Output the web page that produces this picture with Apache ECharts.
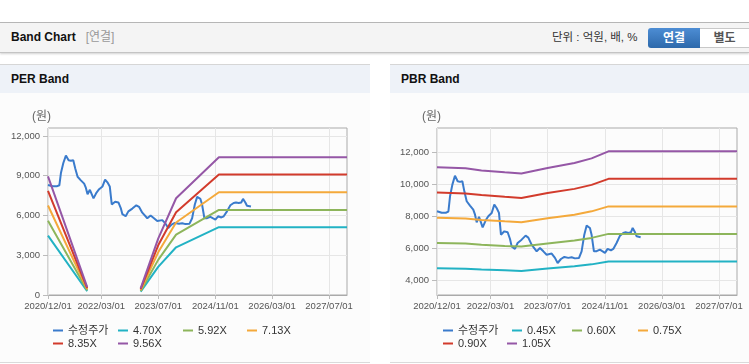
<!DOCTYPE html>
<html><head><meta charset="utf-8">
<script src="https://cdn.jsdelivr.net/npm/echarts@6/dist/echarts.min.js"></script>
<style>
html,body{margin:0;padding:0;width:749px;height:364px;overflow:hidden;background:#fff;font-family:"Liberation Sans",Arial,"Noto Sans CJK KR",sans-serif;}
#topline{position:absolute;left:0;top:22px;width:749px;height:1px;background:#b9b9b9;}
#hdr{position:absolute;left:0;top:23px;width:749px;height:29px;background:#f4f4f4;border-bottom:1px solid #c4c4c4;box-shadow:0 1px 2px rgba(0,0,0,0.18);}
#hdr .t{position:absolute;left:11px;top:0;line-height:29px;font-size:12px;font-weight:bold;color:#111;white-space:nowrap;}
#hdr .s{color:#999;font-weight:normal;margin-left:10px;}
#unit{position:absolute;left:552px;top:0;line-height:29px;font-size:11.5px;color:#333;white-space:nowrap;}
#b1{position:absolute;left:648px;top:5px;width:52px;height:20px;line-height:20px;text-align:center;background:linear-gradient(#4d8dd4,#2d69ab);color:#fff;font-weight:bold;font-size:12px;border-radius:3px 0 0 3px;}
#b2{position:absolute;left:700px;top:5px;width:49px;height:18px;line-height:18px;text-align:center;background:#fff;border:1px solid #c8c8c8;border-left:none;color:#555;font-weight:bold;font-size:12px;}
.panel{position:absolute;top:64px;height:297px;background:#fcfcfc;border-top:1px solid #d6d6d6;border-bottom:1px solid #dadada;}
#p1{left:0;width:370px;}
#p2{left:390px;width:359px;}
.ph{height:28px;background:#eef2f8;line-height:29px;padding-left:11px;font-weight:bold;font-size:12px;color:#111;}
#chart{position:absolute;left:0;top:0;width:749px;height:364px;z-index:5;}
</style></head>
<body>
<div id="topline"></div>
<div id="hdr"><div class="t">Band Chart<span class="s">[연결]</span></div>
<div id="unit">단위 : 억원, 배, %</div><div id="b1">연결</div><div id="b2">별도</div></div>
<div class="panel" id="p1"><div class="ph">PER Band</div></div>
<div class="panel" id="p2"><div class="ph">PBR Band</div></div>
<div id="chart"></div>
<script>
// ---------- data ----------
const priceDates = ['2020-12-01','2021-01-10','2021-02-13','2021-03-08','2021-03-22','2021-04-11','2021-05-03','2021-05-26','2021-06-15','2021-07-05','2021-07-22','2021-08-11','2021-09-08','2021-10-06','2021-10-21','2021-11-04','2021-11-24','2021-12-11','2021-12-25','2022-01-20','2022-02-11','2022-03-12','2022-04-03','2022-04-23','2022-05-13','2022-05-30','2022-06-28','2022-07-26','2022-08-15','2022-08-29','2022-09-26','2022-10-19','2022-11-22','2022-12-26','2023-01-18','2023-02-15','2023-03-30','2023-04-27','2023-05-26','2023-06-23','2023-08-05','2023-09-02','2023-09-25','2023-10-23','2023-11-21','2023-12-25','2024-01-22','2024-02-19','2024-03-25','2024-04-16','2024-05-09','2024-05-29','2024-06-26','2024-07-10','2024-07-30','2024-08-22','2024-09-19','2024-10-09','2024-11-01','2024-11-24','2024-12-22','2025-01-11','2025-02-08','2025-03-09','2025-04-06','2025-04-26','2025-05-19','2025-06-10','2025-06-25','2025-07-15','2025-07-29','2025-09-01'];
const priceValues = [8300,8200,8200,8280,9230,9960,10520,10170,10130,10170,9540,8920,8650,8400,8080,7600,7940,7850,7290,7730,7980,8190,8710,8500,8190,6830,7040,6980,6560,6100,5940,6310,6520,6770,6650,6210,5790,6000,5790,5580,5650,5380,5060,5310,5440,5380,5420,5350,5380,5790,6830,7400,7250,6830,5790,5800,5900,5800,5690,5940,5850,5940,6310,6770,6940,6980,6940,6980,7250,6980,6730,6670];

const perDates = ['2020-12-01','2021-11-01','2022-06-01','2023-02-01','2023-07-01','2023-12-01','2024-12-01','2027-12-01'];
const per470 = [4480, 280, null, 250, 2120, 3600, 5120, 5120];
const per592 = [5600, 360, null, 310, 2650, 4550, 6420, 6420];
const per713 = [6750, 440, null, 380, 3220, 5470, 7750, 7750];
const per835 = [7850, 520, null, 440, 3750, 6250, 9100, 9100];
const per956 = [8950, 600, null, 500, 4250, 7300, 10400, 10400];

const pbrDates = ['2020-12-01','2021-08-01','2021-12-15','2022-07-01','2022-11-20','2023-07-01','2024-02-15','2024-07-10','2024-12-01','2027-12-01'];
const pbr045 = [4730, 4705, 4650, 4600, 4565, 4715, 4850, 4975, 5160, 5160];
const pbr060 = [6310, 6275, 6200, 6130, 6085, 6285, 6465, 6630, 6880, 6880];
const pbr075 = [7885, 7840, 7755, 7665, 7605, 7855, 8080, 8290, 8600, 8600];
const pbr090 = [9465, 9410, 9305, 9195, 9125, 9430, 9695, 9945, 10320, 10320];
const pbr105 = [11040, 10980, 10850, 10730, 10650, 11000, 11310, 11600, 12040, 12040];

const xTickDates = ['2020-12-01','2022-03-01','2023-07-01','2024-11-01','2026-03-01','2027-07-01'];
const perYTicks = [0, 3000, 6000, 9000, 12000];
const pbrYTicks = [4000, 6000, 8000, 10000, 12000];

const perNames = ['수정주가','4.70X','5.92X','7.13X','8.35X','9.56X'];
const pbrNames = ['수정주가','0.45X','0.60X','0.75X','0.90X','1.05X'];
const colors = ['#3a7bcc','#22b2c4','#8db55b','#f4a93b','#d23b2c','#9557a6'];

// ---------- helpers ----------
function ts(s){ const p = s.split('-'); return Date.UTC(+p[0], +p[1]-1, +p[2]); }
function pairs(dates, vals){ return dates.map((d,i)=>[ts(d), vals[i]]); }
function fmtDate(v){ const d=new Date(Number(v)); const m=d.getUTCMonth()+1, dd=d.getUTCDate();
  return d.getUTCFullYear()+'/'+(m<10?'0':'')+m+'/'+(dd<10?'0':'')+dd; }
const xTicks = xTickDates.map(ts);
const FONT = '"Liberation Sans", Arial, "Noto Sans CJK KR", sans-serif';

function xAxis(gi){ return {
  type:'value', gridIndex:gi, min:ts('2020-12-01'), max:ts('2027-12-01'),
  axisLine:{show:true, onZero:false, lineStyle:{color:'#aaaaaa'}},
  axisTick:{show:true, length:4, customValues:xTicks, lineStyle:{color:'#bbbbbb'}},
  axisLabel:{customValues:xTicks, formatter:fmtDate, fontSize:9.5, color:'#555', margin:7, fontFamily:FONT, hideOverlap:false, showMinLabel:true, showMaxLabel:true},
  splitLine:{show:true, lineStyle:{color:'#e6e6e6'}}
};}
function yAxis(gi, min, max, ticks){ return {
  type:'value', gridIndex:gi, min:min, max:max,
  axisLine:{show:false},
  axisTick:{show:true, length:5, customValues:ticks, lineStyle:{color:'#bbbbbb'}},
  axisLabel:{customValues:ticks, formatter:v=>Number(v).toLocaleString('en-US'), fontSize:9.5, color:'#555', margin:8, fontFamily:FONT},
  splitLine:{show:true, lineStyle:{color:'#e6e6e6'}}
};}
function line(name, data, gi, color){ return {
  type:'line', name:name, data:data, xAxisIndex:gi, yAxisIndex:gi,
  showSymbol:false, symbol:'none', connectNulls:false,
  lineStyle:{width:2, color:color}, itemStyle:{color:color}, animation:false
};}

const perBands = [per470, per592, per713, per835, per956];
const pbrBands = [pbr045, pbr060, pbr075, pbr090, pbr105];
const series = [];
series.push(line(perNames[0], pairs(priceDates, priceValues), 0, colors[0]));
perBands.forEach((b,i)=>series.push(line(perNames[i+1], pairs(perDates, b), 0, colors[i+1])));
series.push(line(pbrNames[0], pairs(priceDates, priceValues), 1, colors[0]));
pbrBands.forEach((b,i)=>series.push(line(pbrNames[i+1], pairs(pbrDates, b), 1, colors[i+1])));

const perLegPos = [[53,325],[118,325],[183,325],[247,325],[53,338],[118,338]];
const pbrLegPos = [[443,325],[512,325],[572,325],[638,325],[443,338],[507,338]];
const legends = [];
function addLeg(name, pos){ legends.push({
  data:[name], left:pos[0], top:pos[1], padding:0, itemGap:0, icon:'rect', itemWidth:10, itemHeight:2,
  selectedMode:false, textStyle:{fontSize:11, color:'#333', fontFamily:FONT}
});}
perNames.forEach((n,i)=>addLeg(n, perLegPos[i]));
pbrNames.forEach((n,i)=>addLeg(n, pbrLegPos[i]));

const chart = echarts.init(document.getElementById('chart'), null, {renderer:'canvas'});
chart.setOption({
  animation:false,
  grid:[
    {left:48, top:128, width:299, height:167, show:true, borderColor:'#aaaaaa', borderWidth:1, backgroundColor:'rgba(0,0,0,0)'},
    {left:437, top:128, width:300, height:167, show:true, borderColor:'#aaaaaa', borderWidth:1, backgroundColor:'rgba(0,0,0,0)'}
  ],
  xAxis:[xAxis(0), xAxis(1)],
  yAxis:[yAxis(0, 0, 12600, perYTicks), yAxis(1, 3060, 13500, pbrYTicks)],
  legend:legends,
  graphic:[
    {type:'text', left:32, top:111, style:{text:'(원)', fontSize:12, fill:'#666', fontFamily:FONT}},
    {type:'text', left:422, top:111, style:{text:'(원)', fontSize:12, fill:'#666', fontFamily:FONT}}
  ],
  series:series
});
</script>
</body></html>
